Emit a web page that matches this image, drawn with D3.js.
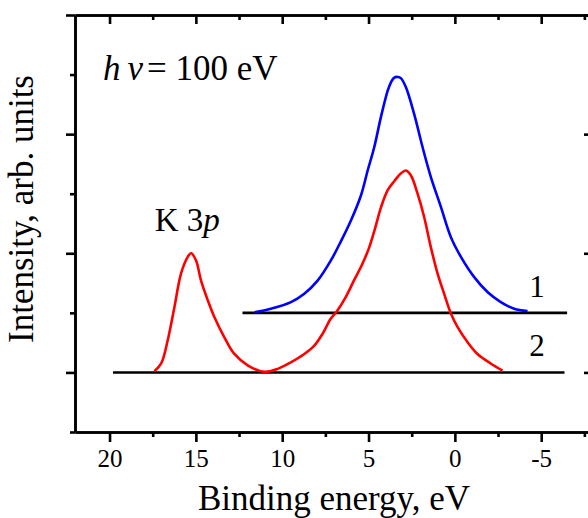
<!DOCTYPE html>
<html>
<head>
<meta charset="utf-8">
<script src="https://cdn.jsdelivr.net/npm/d3@7"></script>
<style>
  html, body { margin: 0; padding: 0; background: #fff; }
  svg { display: block; }
  text { font-family: "Liberation Serif", "Times New Roman", serif; fill: #000; }
</style>
</head>
<body>
<svg id="chart" width="588" height="518"></svg>
<script>
// Photoelectron spectra, binding energy (eV) vs intensity (arb. units)
const energyBlue = [11.60, 10.65, 9.49, 8.72, 7.95, 7.18, 6.60, 6.02, 5.44, 5.05, 4.67, 4.28, 3.89, 3.70, 3.51, 3.30, 3.13, 2.84, 2.36, 1.87, 1.39, 0.81, 0.23, -0.35, -1.12, -1.89, -2.66, -3.43, -4.21];
const intensityBlue = [1.01, 1.07, 1.18, 1.32, 1.54, 1.88, 2.20, 2.55, 2.97, 3.39, 3.78, 4.29, 4.73, 4.87, 4.95, 4.96, 4.94, 4.79, 4.34, 3.78, 3.28, 2.78, 2.27, 1.94, 1.60, 1.35, 1.18, 1.07, 1.03];

const energyRed = [17.40, 17.01, 16.63, 16.24, 15.86, 15.47, 15.28, 14.99, 14.70, 14.31, 13.93, 13.35, 12.77, 12.00, 11.04, 10.26, 9.50, 8.72, 8.14, 7.66, 7.19, 6.80, 6.33, 5.85, 5.36, 4.96, 4.62, 4.28, 3.89, 3.51, 3.13, 2.84, 2.55, 2.16, 1.78, 1.39, 1.00, 0.62, 0.23, -0.16, -0.73, -1.31, -2.08, -2.76];
const intensityRed = [0.02, 0.15, 0.54, 1.10, 1.66, 1.94, 2.00, 1.88, 1.54, 1.21, 0.93, 0.59, 0.31, 0.12, 0.01, 0.06, 0.17, 0.31, 0.45, 0.65, 0.90, 1.04, 1.26, 1.54, 1.82, 2.10, 2.42, 2.77, 3.06, 3.21, 3.34, 3.39, 3.31, 3.00, 2.61, 2.10, 1.66, 1.32, 0.99, 0.76, 0.51, 0.31, 0.15, 0.03];

// Baselines of the two spectra (offset levels) and their labels
const curveLabels = ["1", "2"];
const baselineLevels = [1, 0];
const baselineStart = [12.3, 19.8];
const baselineEnd = [-6.5, -6.35];

// Axis ticks
const xMajorTicks = [20, 15, 10, 5, 0, -5];
const xMinorTicks = [17.5, 12.5, 7.5, 2.5, -2.5, -7.5];
const yMajorTicks = [0, 2, 4, 6];
const yMinorTicks = [-1, 1, 3, 5];

const svg = d3.select("#chart");
const plotLeft = 75, plotRight = 593, plotTop = 15, plotBottom = 432;

const x = d3.scaleLinear().domain([22, -8]).range([plotLeft, plotRight]);
const y = d3.scaleLinear().domain([-1, 6]).range([plotBottom, plotTop]);

const axisColor = "#000";
const axisWidth = 2.6;

function styleAxis(g) {
  g.select(".domain").attr("stroke", axisColor).attr("stroke-width", axisWidth);
  g.selectAll(".tick line").attr("stroke", axisColor).attr("stroke-width", axisWidth);
}

// Bottom axis: labelled major ticks, outward
const gBottom = svg.append("g").attr("transform", `translate(0,${plotBottom})`)
  .call(d3.axisBottom(x).tickValues(xMajorTicks).tickSize(10).tickSizeOuter(0).tickFormat(d => String(d)));
styleAxis(gBottom);
gBottom.attr("font-family", null);
gBottom.selectAll(".tick text")
  .attr("y", 35).attr("dy", 0)
  .style("font-size", "25px")
  .style("font-family", "'Liberation Serif', 'Times New Roman', serif");
svg.append("g").attr("transform", `translate(0,${plotBottom})`)
  .call(d3.axisBottom(x).tickValues(xMinorTicks).tickSize(5).tickSizeOuter(0).tickFormat(""))
  .call(styleAxis);

// Top axis: ticks pointing inward
svg.append("g").attr("transform", `translate(0,${plotTop})`)
  .call(d3.axisBottom(x).tickValues(xMajorTicks).tickSize(9).tickSizeOuter(0).tickFormat(""))
  .call(styleAxis);
svg.append("g").attr("transform", `translate(0,${plotTop})`)
  .call(d3.axisBottom(x).tickValues(xMinorTicks).tickSize(5).tickSizeOuter(0).tickFormat(""))
  .call(styleAxis);

// Left axis: outward ticks, no labels
svg.append("g").attr("transform", `translate(${plotLeft},0)`)
  .call(d3.axisLeft(y).tickValues(yMajorTicks).tickSize(9).tickSizeOuter(0).tickFormat(""))
  .call(styleAxis);
svg.append("g").attr("transform", `translate(${plotLeft},0)`)
  .call(d3.axisLeft(y).tickValues(yMinorTicks).tickSize(5).tickSizeOuter(0).tickFormat(""))
  .call(styleAxis);

// Right axis: inward ticks
svg.append("g").attr("transform", `translate(${plotRight},0)`)
  .call(d3.axisLeft(y).tickValues(yMajorTicks).tickSize(9).tickSizeOuter(0).tickFormat(""))
  .call(styleAxis);
svg.append("g").attr("transform", `translate(${plotRight},0)`)
  .call(d3.axisLeft(y).tickValues(yMinorTicks).tickSize(5).tickSizeOuter(0).tickFormat(""))
  .call(styleAxis);

// Baselines
const baseData = curveLabels.map((lab, i) => ({
  label: lab, level: baselineLevels[i], from: baselineStart[i], to: baselineEnd[i]
}));
svg.selectAll("line.baseline").data(baseData).enter().append("line")
  .attr("class", "baseline")
  .attr("x1", d => x(d.from)).attr("x2", d => x(d.to))
  .attr("y1", d => y(d.level)).attr("y2", d => y(d.level))
  .attr("stroke", "#000").attr("stroke-width", 2.6);

// Spectra
const line = d3.line()
  .x(d => x(d[0])).y(d => y(d[1]))
  .curve(d3.curveCatmullRom.alpha(0.5));

const redPts = energyRed.map((e, i) => [e, intensityRed[i]]);
const bluePts = energyBlue.map((e, i) => [e, intensityBlue[i]]);

svg.append("path").datum(redPts)
  .attr("d", line).attr("fill", "none")
  .attr("stroke", "#ff0000").attr("stroke-width", 2.6).attr("stroke-linejoin", "round");
svg.append("path").datum(bluePts)
  .attr("d", line).attr("fill", "none")
  .attr("stroke", "#0000ff").attr("stroke-width", 2.6).attr("stroke-linejoin", "round");

// Curve labels
svg.selectAll("text.curve-label").data(baseData).enter().append("text")
  .attr("class", "curve-label")
  .attr("x", x(-4.75))
  .attr("y", d => y(d.level) - 16)
  .attr("text-anchor", "middle")
  .style("font-size", "31px")
  .text(d => d.label);

// Peak annotation
const k3p = svg.append("text")
  .attr("x", x(15.5)).attr("y", y(2) - 22)
  .attr("text-anchor", "middle")
  .style("font-size", "33px");
k3p.append("tspan").text("K 3");
k3p.append("tspan").style("font-style", "italic").text("p");

// Photon energy
const hv = svg.append("text")
  .attr("x", 103).attr("y", 80)
  .style("font-size", "35px");
hv.append("tspan").style("font-style", "italic").text("h");
hv.append("tspan").style("font-style", "italic").attr("dx", 7).text("ν");
hv.append("tspan").attr("dx", 4).text("= 100 eV");

// Axis titles
svg.append("text")
  .attr("x", 334).attr("y", 510)
  .attr("text-anchor", "middle")
  .style("font-size", "35px")
  .text("Binding energy, eV");

svg.append("text")
  .attr("transform", "translate(33,209) rotate(-90)")
  .attr("text-anchor", "middle")
  .style("font-size", "35px")
  .text("Intensity, arb. units");
</script>
</body>
</html>
